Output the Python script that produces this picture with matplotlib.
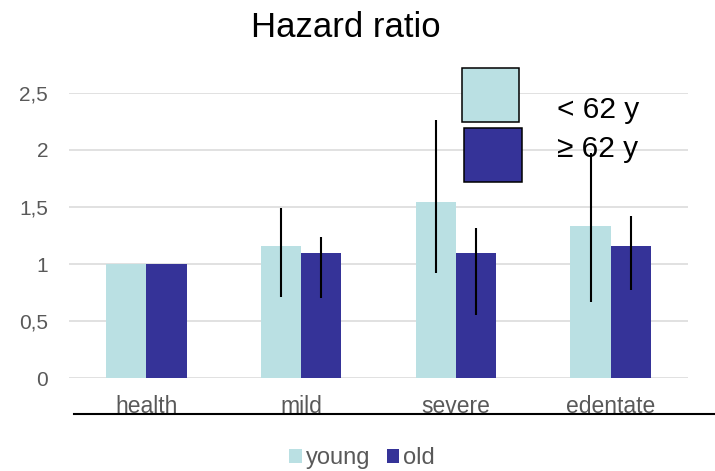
import numpy as np
import matplotlib
matplotlib.use("Agg")
import matplotlib.pyplot as plt
from matplotlib.patches import Rectangle
from matplotlib.lines import Line2D

plt.rcParams['font.family'] = ['Liberation Sans', 'DejaVu Sans']

# data
categories = ['health', 'mild', 'severe', 'edentate']
young = [1.0, 1.16, 1.54, 1.33]
old = [1.0, 1.10, 1.10, 1.16]
young_lo = [np.nan, 0.71, 0.92, 0.67]
young_hi = [np.nan, 1.49, 2.26, 1.97]
old_lo = [np.nan, 0.70, 0.55, 0.77]
old_hi = [np.nan, 1.24, 1.32, 1.42]
yticks = [0, 0.5, 1, 1.5, 2, 2.5]
ytick_labels = ['0', '0,5', '1', '1,5', '2', '2,5']

c_young = '#BAE0E3'
c_old = '#353398'
grey = '#595959'

W, H = 715, 471
fig = plt.figure(figsize=(W / 100, H / 100), dpi=100)
ax = fig.add_axes([69 / W, 1 - 378.3 / H, (688 - 69) / W, (378.3 - 92.7) / H])

x = np.arange(len(categories))
bw = 0.26
ax.bar(x - bw / 2, young, bw, color=c_young, zorder=2, label='young')
ax.bar(x + bw / 2, old, bw, color=c_old, zorder=2, label='old')

# confidence intervals as plain lines
ax.vlines(x - bw / 2, young_lo, young_hi, color='black', lw=1.5, zorder=3)
ax.vlines(x + bw / 2, old_lo, old_hi, color='black', lw=1.5, zorder=3)

ax.set_xlim(-0.5, len(categories) - 0.5)
ax.set_ylim(0, 2.5)
ax.set_yticks(yticks)
ax.set_yticklabels(ytick_labels)
ax.tick_params(axis='y', length=0, pad=15, labelsize=15, labelcolor=grey)
ax.set_xticks([])
ax.grid(axis='y', color='#D9D9D9', lw=1.1, zorder=0)
for s in ax.spines.values():
    s.set_visible(False)

for xi, name in zip(x, categories):
    ax.text(xi, -0.1215, name, transform=ax.get_xaxis_transform(), ha='center',
            va='baseline', fontsize=16.5, color=grey)

# black line under the category labels
fig.add_artist(Line2D([74.3 / W, 1.0], [1 - 413.5 / H, 1 - 413.5 / H],
                      color='black', lw=1.5, transform=fig.transFigure))

fig.text(346 / W, 1 - 36.7 / H, 'Hazard ratio', ha='center', va='baseline',
         fontsize=25, color='black')

# pasted-on legend boxes
fig.add_artist(Rectangle((461.7 / W, 1 - 122.3 / H), 57.3 / W, 54 / H,
                         facecolor=c_young, edgecolor='black', lw=1.1,
                         transform=fig.transFigure, zorder=5))
fig.add_artist(Rectangle((463.7 / W, 1 - 182 / H), 58 / W, 54 / H,
                         facecolor=c_old, edgecolor='black', lw=1.1,
                         transform=fig.transFigure, zorder=5))
fig.text(556.7 / W, 1 - 118.3 / H, '< 62 y', ha='left', va='baseline',
         fontsize=21.5, color='black', zorder=6)
fig.text(556.7 / W, 1 - 156.7 / H, '\u2265 62 y', ha='left', va='baseline',
         fontsize=21.5, color='black', zorder=6)

fig.legend(loc='center', bbox_to_anchor=(362 / W, 1 - 458 / H), ncol=2,
           frameon=False, fontsize=17, labelcolor=grey, handlelength=0.53,
           handleheight=0.53, handletextpad=0.17, columnspacing=0.7,
           borderpad=0, borderaxespad=0)

fig.savefig('out.png', dpi=100)
